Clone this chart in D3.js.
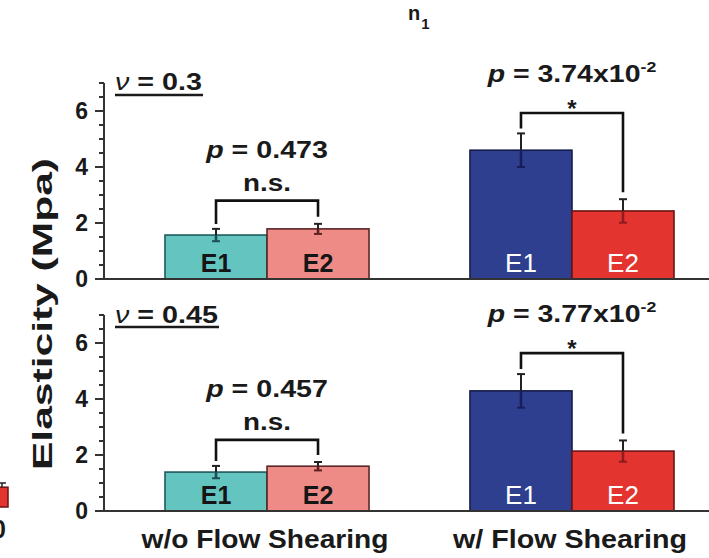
<!DOCTYPE html>
<html>
<head>
<meta charset="utf-8">
<script src="https://cdn.jsdelivr.net/npm/d3@7"></script>
<style>
  html, body { margin: 0; padding: 0; background: #fff; }
  svg { display: block; font-family: "Liberation Sans", Arial, sans-serif; }
</style>
</head>
<body>
<svg id="chart" width="709" height="558"></svg>
<script>
// Groups on the x axis and the two moduli compared inside each group
const groups = ["w/o Flow Shearing", "w/ Flow Shearing"];
const moduli = ["E1", "E2"];

// Poisson ratio of each panel
const poisson = ["0.3", "0.45"];

// Mean elasticity (MPa) and error, per group, for ν = 0.3
const e1Mean03 = [1.57, 4.60];
const e1Err03  = [0.22, 0.60];
const e2Mean03 = [1.79, 2.43];
const e2Err03  = [0.18, 0.42];

// Mean elasticity (MPa) and error, per group, for ν = 0.45
const e1Mean045 = [1.39, 4.29];
const e1Err045  = [0.22, 0.60];
const e2Mean045 = [1.60, 2.14];
const e2Err045  = [0.15, 0.38];

// Significance annotations per group
const pMantissa03  = ["0.473", "3.74x10"];
const pExponent03  = ["", "-2"];
const pMantissa045 = ["0.457", "3.77x10"];
const pExponent045 = ["", "-2"];
const sigMarks     = ["n.s.", "*"];
const bracket03    = [2.8, 5.93];
const bracket045   = [2.54, 5.64];

// Y axis ticks
const yMax = 7;
const yMajorTicks = [0, 2, 4, 6];
const yMinorTicks = d3.range(0, 7.01, 0.5).filter(v => v % 2 !== 0);

// Cropped edge of the neighbouring panel
const edgeValue = [0.85];
const edgeLabel = ["0"];

const panels = [
  { nu: poisson[0], e1: e1Mean03, e1e: e1Err03, e2: e2Mean03, e2e: e2Err03,
    pm: pMantissa03, px: pExponent03, br: bracket03 },
  { nu: poisson[1], e1: e1Mean045, e1e: e1Err045, e2: e2Mean045, e2e: e2Err045,
    pm: pMantissa045, px: pExponent045, br: bracket045 }
];

const colors = {
  0: { E1: { fill: "#63c4c0", stroke: "#1f5a5a", inner: "#1e4f55", text: "#151515", weight: "bold" },
       E2: { fill: "#ef8b86", stroke: "#5a2626", inner: "#5e2020", text: "#151515", weight: "bold" } },
  1: { E1: { fill: "#2e3f90", stroke: "#161c4a", inner: "#1a1d5c", text: "#ffffff", weight: "normal" },
       E2: { fill: "#e4342f", stroke: "#6a1515", inner: "#8e1b1e", text: "#ffffff", weight: "normal" } }
};

const svg = d3.select("#chart");
const ink = "#1a1a1a";
const axisX0 = 104;
const axisX1 = 709;

const xGroup = d3.scaleBand().domain(groups).range([114.5, 724.5])
  .paddingInner(0.331).paddingOuter(0.1656);
const xSub = d3.scaleBand().domain(moduli).range([0, xGroup.bandwidth()]);

const panelRanges = [[279, 83], [511, 315]];

// Scale a text group horizontally so that it spans the given width
function fit(g, width) {
  const w = g.node().getBBox().width;
  const t = g.attr("data-t");
  g.attr("transform", t + ` scale(${width / w},1)`);
}

panels.forEach((p, pi) => {
  const y = d3.scaleLinear().domain([0, yMax]).range(panelRanges[pi]);
  const g = svg.append("g");

  // bars
  groups.forEach((grp, gi) => {
    const vals = { E1: [p.e1[gi], p.e1e[gi]], E2: [p.e2[gi], p.e2e[gi]] };
    moduli.forEach(m => {
      const c = colors[gi][m];
      const x0 = xGroup(grp) + xSub(m);
      const bw = xSub.bandwidth();
      const cx = x0 + bw / 2;
      const [v, e] = vals[m];
      g.append("rect")
        .attr("x", x0).attr("y", y(v))
        .attr("width", bw).attr("height", y(0) - y(v))
        .attr("fill", c.fill).attr("stroke", c.stroke).attr("stroke-width", 1.6);
      // error bar: dark above the bar, tinted inside it
      g.append("line").attr("x1", cx).attr("x2", cx)
        .attr("y1", y(v + e)).attr("y2", y(v))
        .attr("stroke", "#222").attr("stroke-width", 2);
      g.append("line").attr("x1", cx).attr("x2", cx)
        .attr("y1", y(v)).attr("y2", y(v - e))
        .attr("stroke", c.inner).attr("stroke-width", 2.6);
      g.append("line").attr("x1", cx - 4).attr("x2", cx + 4)
        .attr("y1", y(v + e)).attr("y2", y(v + e))
        .attr("stroke", "#222").attr("stroke-width", 2);
      g.append("line").attr("x1", cx - 4).attr("x2", cx + 4)
        .attr("y1", y(v - e)).attr("y2", y(v - e))
        .attr("stroke", c.inner).attr("stroke-width", 2);
      g.append("text")
        .attr("x", cx).attr("y", y(0) - 7)
        .attr("text-anchor", "middle")
        .attr("font-size", c.weight === "bold" ? 25 : 26)
        .attr("font-weight", c.weight)
        .attr("fill", c.text)
        .text(m);
    });

    // significance bracket
    const cx1 = xGroup(grp) + xSub("E1") + xSub.bandwidth() / 2;
    const cx2 = xGroup(grp) + xSub("E2") + xSub.bandwidth() / 2;
    const by = y(p.br[gi]);
    const l1 = y(vals.E1[0] + vals.E1[1]) - 5;
    const l2 = y(vals.E2[0] + vals.E2[1]) - 7;
    g.append("path")
      .attr("d", `M${cx1},${l1}V${by}H${cx2}V${l2}`)
      .attr("fill", "none").attr("stroke", "#111").attr("stroke-width", 2.6);

    const mid = (cx1 + cx2) / 2;
    const notSig = gi === 0;
    // p-value label
    const pg = g.append("g").attr("data-t", `translate(${mid},${by - (notSig ? 43 : 31)})`);
    const pt = pg.append("text").attr("text-anchor", "middle")
      .attr("font-size", 24).attr("font-weight", "bold").attr("fill", ink);
    pt.append("tspan").attr("font-style", "italic").text("p");
    pt.append("tspan").text(" = " + p.pm[gi]);
    if (p.px[gi]) {
      pt.append("tspan").attr("font-size", 15).attr("dy", -10).text(p.px[gi]);
    }
    fit(pg, notSig ? 123 : 170);

    // significance mark
    if (notSig) {
      const sg = g.append("g").attr("data-t", `translate(${mid},${by - 10})`);
      sg.append("text").attr("text-anchor", "middle")
        .attr("font-size", 24).attr("font-weight", "bold").attr("fill", ink)
        .text(sigMarks[gi]);
      fit(sg, 48);
    } else {
      g.append("text").attr("x", mid).attr("y", by + 4)
        .attr("text-anchor", "middle")
        .attr("font-size", 24).attr("font-weight", "bold").attr("fill", ink)
        .text(sigMarks[gi]);
    }
  });

  // x axis baseline
  g.append("line").attr("x1", axisX0).attr("x2", axisX1)
    .attr("y1", y(0)).attr("y2", y(0))
    .attr("stroke", "#333").attr("stroke-width", 2);

  // y axis
  g.append("line").attr("x1", axisX0).attr("x2", axisX0)
    .attr("y1", y(0) + 1).attr("y2", y(yMax))
    .attr("stroke", "#333").attr("stroke-width", 2);
  yMinorTicks.forEach(t => {
    g.append("line").attr("x1", axisX0 - 5).attr("x2", axisX0)
      .attr("y1", y(t)).attr("y2", y(t))
      .attr("stroke", "#333").attr("stroke-width", 2);
  });
  yMajorTicks.forEach(t => {
    g.append("line").attr("x1", axisX0 - 9).attr("x2", axisX0)
      .attr("y1", y(t)).attr("y2", y(t))
      .attr("stroke", "#333").attr("stroke-width", 2);
    g.append("text").attr("x", axisX0 - 16).attr("y", y(t) + 8)
      .attr("text-anchor", "end")
      .attr("font-size", 23).attr("font-weight", "bold").attr("fill", ink)
      .text(t);
  });

  // Poisson ratio tag
  const nuG = g.append("g").attr("data-t", `translate(115,${y(yMax) + 7 + (pi === 0 ? 0 : 1)})`);
  const nt = nuG.append("text").attr("font-size", 24).attr("fill", ink);
  nt.append("tspan").attr("font-style", "italic").text("ν");
  nt.append("tspan").attr("font-weight", "bold").text(" = " + p.nu);
  fit(nuG, pi === 0 ? 87 : 103);
  g.append("line").attr("x1", 115).attr("x2", 115 + (pi === 0 ? 88 : 104))
    .attr("y1", y(yMax) + 12).attr("y2", y(yMax) + 12)
    .attr("stroke", ink).attr("stroke-width", 2.6);

  // cropped neighbouring bar on the left edge (bottom panel only)
  if (pi === 1) {
    g.append("rect").attr("x", -20).attr("y", y(edgeValue[0]))
      .attr("width", 28).attr("height", y(0) - 4 - y(edgeValue[0]))
      .attr("fill", "#e4342f").attr("stroke", "#6a1515").attr("stroke-width", 1.5);
    g.append("line").attr("x1", 2).attr("x2", 2)
      .attr("y1", y(edgeValue[0] + 0.15)).attr("y2", y(edgeValue[0]))
      .attr("stroke", "#222").attr("stroke-width", 1.5);
    g.append("line").attr("x1", -2).attr("x2", 6)
      .attr("y1", y(edgeValue[0] + 0.15)).attr("y2", y(edgeValue[0] + 0.15))
      .attr("stroke", "#222").attr("stroke-width", 1.5);
    g.append("text").attr("x", 6).attr("y", y(0) + 27)
      .attr("text-anchor", "end")
      .attr("font-size", 25).attr("font-weight", "bold").attr("fill", ink)
      .text(edgeLabel[0]);
  }
});

// group labels under the bottom panel
groups.forEach((grp, gi) => {
  svg.append("text")
    .attr("x", xGroup(grp) + xGroup.bandwidth() / 2 - 2)
    .attr("y", 548)
    .attr("text-anchor", "middle")
    .attr("font-size", 25).attr("font-weight", "bold").attr("fill", ink)
    .attr("textLength", gi === 0 ? 247 : 234)
    .attr("lengthAdjust", "spacingAndGlyphs")
    .text(grp);
});

// y axis title
svg.append("text")
  .attr("transform", "translate(52,314) rotate(-90)")
  .attr("text-anchor", "middle")
  .attr("font-size", 28).attr("font-weight", "bold").attr("fill", ink)
  .attr("textLength", 312)
  .attr("lengthAdjust", "spacingAndGlyphs")
  .text("Elasticity (Mpa)");

// panel title
const title = svg.append("text").attr("x", 408).attr("y", 20)
  .attr("font-weight", "bold").attr("fill", ink);
title.append("tspan").attr("font-size", 20).text("n");
title.append("tspan").attr("font-size", 15).attr("dy", 9).attr("dx", 1).text("1");
</script>
</body>
</html>
